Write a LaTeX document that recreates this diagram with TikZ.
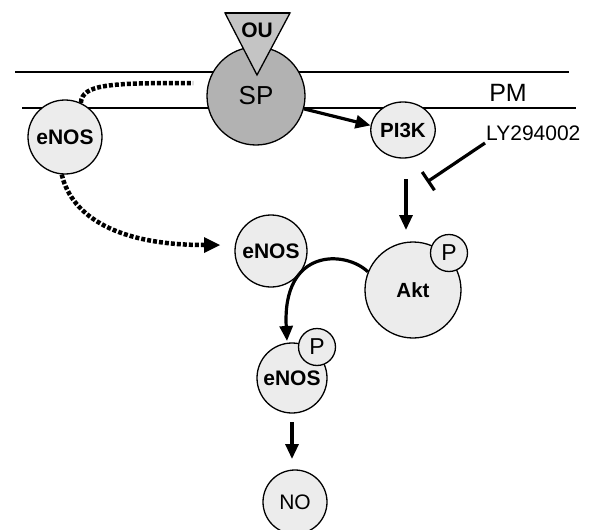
\documentclass[tikz,border=0pt]{standalone}
\usepackage{fontspec}
\setmainfont{Liberation Sans}
\usetikzlibrary{arrows.meta,shapes.geometric}
\definecolor{lightfill}{HTML}{ECECEC}
\definecolor{spfill}{HTML}{B2B2B2}
\definecolor{oufill}{HTML}{C4C4C4}
\tikzset{
  mol/.style={circle, draw=black, line width=1.3pt, fill=lightfill, inner sep=0pt, font=\fontsize{21}{21}\selectfont\bfseries},
  phos/.style={circle, draw=black, line width=1.3pt, fill=lightfill, inner sep=0pt, minimum size=37pt, font=\fontsize{23}{23}\selectfont},
  arr/.style={line width=3.2pt, -{Triangle[length=15pt,width=13pt]}},
  dotline/.style={line width=4.5pt, dash pattern=on 4pt off 2pt},
  membrane/.style={line width=1.2pt},
  lbl/.style={font=\fontsize{23}{23}\selectfont, inner sep=0pt}
}
\begin{document}
\begin{tikzpicture}[x=1pt,y=-1pt]
\useasboundingbox (0,0) rectangle (595,530);
% membrane
\draw[membrane] (15,72) -- (569,72);
\draw[membrane] (22,108) -- (576,108);
\node[lbl, font=\fontsize{25}{25}\selectfont] (pm) at (508,93) {PM};
% SP
\node[mol, fill=spfill, minimum size=98pt, font=\fontsize{26}{26}\selectfont] (sp) at (256,96) {SP};
% OU triangle
\filldraw[fill=oufill, draw=black, line width=1.3pt] (225,13) -- (257,75) -- (290,13) -- cycle;
\draw[line width=2.5pt] (225,13) -- (290,13);
\node[font=\fontsize{21}{21}\selectfont\bfseries, inner sep=0pt] (ou) at (257,30) {OU};
% PI3K
\node[ellipse, draw=black, line width=1.3pt, fill=lightfill, inner sep=0pt, minimum width=64pt, minimum height=56pt, font=\fontsize{20.5}{20.5}\selectfont\bfseries] (pi3k) at (403,130) {PI3K};
% LY
\node[lbl, font=\fontsize{21}{21}\selectfont, anchor=west] (ly) at (486,133) {LY294002};
% eNOS
\node[mol, minimum size=74pt] (enos1) at (65,137) {eNOS};
\node[mol, minimum size=72pt] (enos2) at (271,251) {eNOS};
\node[mol, minimum size=96pt, font=\fontsize{20.5}{20.5}\selectfont\bfseries] (akt) at (413,290) {Akt};
\node[phos] (aktp) at (449,253) {P};
\node[mol, minimum size=70pt] (enos3) at (292,378) {\raisebox{-4pt}{eNOS}};
\node[phos] (enosp) at (317,347) {P};
\node[mol, minimum size=64pt, font=\fontsize{21}{21}\selectfont] (no) at (295,502) {NO};
% connectors
\draw[arr] (sp.-15) -- (pi3k.172);
\coordinate (lys) at (485,143);
\coordinate (lye) at (427,182);
\draw[line width=3.2pt, -{Bar[width=22pt,line width=3.2pt]}] (lys) -- (lye);
\coordinate (ak1) at (406,179);
\coordinate (ak2) at (406,230);
\draw[arr] (ak1) -- (ak2);
\draw[arr] (akt.158) .. controls (345,250) and (282,248) .. (287,341);
\coordinate (no1) at (292,422);
\coordinate (no2) at (292,459);
\draw[arr] (no1) -- (no2);
% dotted paths
\coordinate (d1) at (193,83);
\draw[dotline] (enos1.65) .. controls (82,84) and (110,83) .. (d1);
\draw[dotline] (enos1.-95) .. controls (72,218) and (120,245) .. (204,245);
\fill (220,245) -- (204,237) -- (204,253) -- cycle;
\end{tikzpicture}
\end{document}
